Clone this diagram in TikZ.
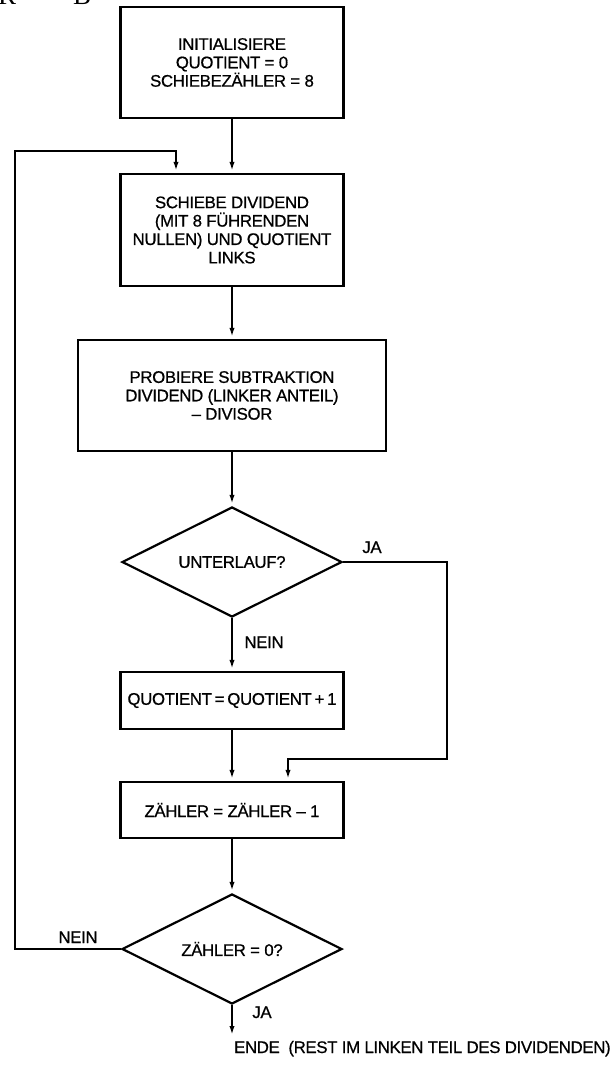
\documentclass[tikz,border=0pt]{standalone}
\usepackage{fontspec}
\setmainfont{Liberation Sans}[LetterSpace=-2, FakeBold=0.7]
\newfontfamily\headfont{Liberation Serif}
\usetikzlibrary{arrows.meta,shapes.geometric}

\begin{document}
\begin{tikzpicture}[x=1pt, y=-1pt, line width=2.2pt, >={Latex[length=11pt,width=5pt]},
  every node/.style={font=\fontsize{16.8}{18.4}\selectfont, inner sep=0pt},
  stepbox/.style={draw, align=center, minimum width=223pt},
  query/.style={draw, diamond, aspect=2, minimum width=220pt, minimum height=110pt}]
  \useasboundingbox (0,0) rectangle (615,1065);
  % remains of the page heading
  \node[anchor=base west, font=\headfont\fontsize{27}{27}\selectfont] (hr) at (-3,5) {R};
  \node[anchor=base west, font=\headfont\fontsize{27}{27}\selectfont] (hb) at (72,5) {B};

  \node[stepbox, minimum height=111pt] (init) at (232,62.5)
    {INITIALISIERE\\QUOTIENT = 0\\SCHIEBEZÄHLER = 8};
  \node[stepbox, minimum height=112pt] (shift) at (232,230)
    {SCHIEBE DIVIDEND\\(MIT 8 FÜHRENDEN\\NULLEN) UND QUOTIENT\\LINKS};
  \node[stepbox, minimum width=308pt, minimum height=111pt] (sub) at (232,395.5)
    {PROBIERE SUBTRAKTION\\DIVIDEND (LINKER ANTEIL)\\-- DIVISOR};
  \node[query] (under) at (232,562) {UNTERLAUF?};
  \node[stepbox, minimum height=57pt] (quot) at (232,700.5) {QUOTIENT\,=\,QUOTIENT\,+\,1};
  \node[stepbox, minimum height=56pt] (count) at (232,810) {ZÄHLER = ZÄHLER -- 1};
  \node[query] (zero) at (232,949) {ZÄHLER = 0?};
  \coordinate (jacorner) at (447,759);
  \coordinate (lefttop) at (15,151);
  \coordinate (stop) at (232,1037);
  \node[anchor=base west] (ende) at (233,1053) {ENDE\ \ (REST IM LINKEN TEIL DES DIVIDENDEN)};

  \draw[->] (init) -- (shift);
  \draw[->] (shift) -- (sub);
  \draw[->] (sub) -- (under);
  \draw[->] (under) -- (quot);
  \draw[->] (quot) -- (count);
  \draw[->] (count) -- (zero);
  \draw[->] (zero) -- (stop);
  \draw[->] (under.east) -| (jacorner) -| ([xshift=56pt]count.north);
  \draw[->] (zero.west) -| (lefttop) -| ([xshift=-56pt]shift.north);

  \node[anchor=base] (ja1) at (372,553) {JA};
  \node[anchor=base] (nein1) at (264,648) {NEIN};
  \node[anchor=base] (nein2) at (78,943) {NEIN};
  \node[anchor=base] (ja2) at (262,1018) {JA};
\end{tikzpicture}
\end{document}
